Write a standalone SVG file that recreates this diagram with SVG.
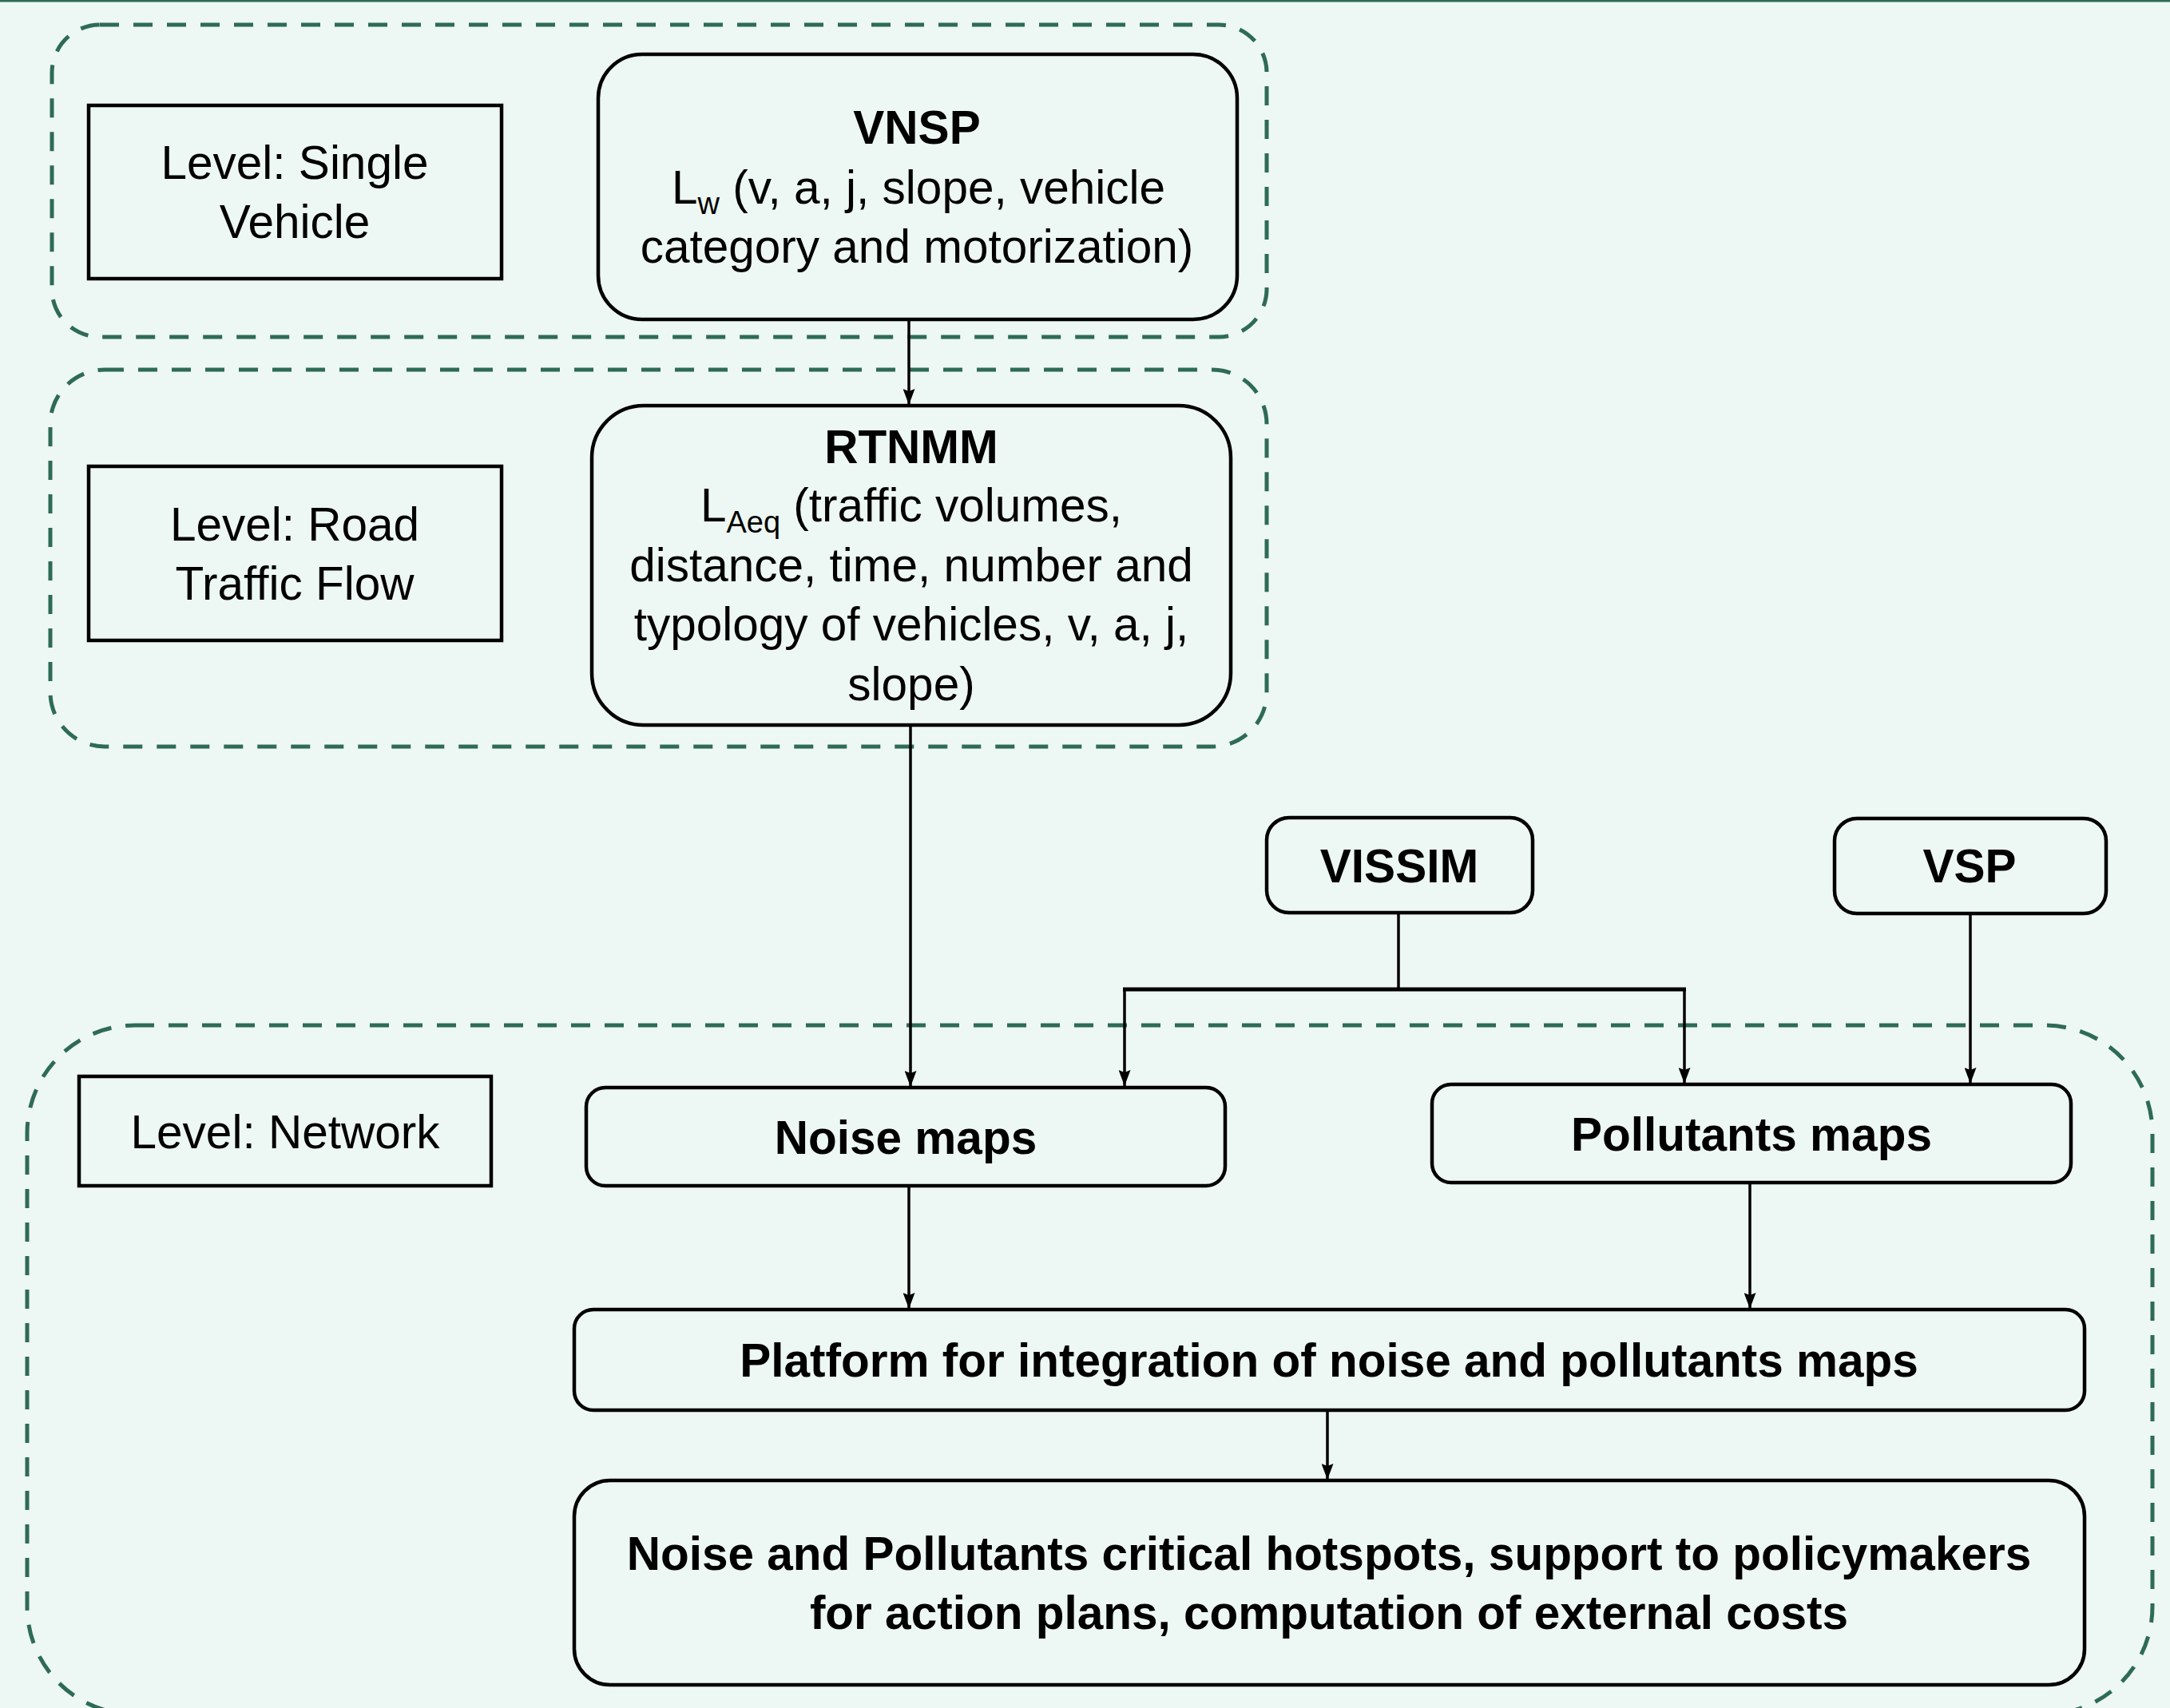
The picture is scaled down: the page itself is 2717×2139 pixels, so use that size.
<svg xmlns="http://www.w3.org/2000/svg" width="2717" height="2139" viewBox="0 0 2717 2139">
  <style>
    .bg { fill: #edf7f3; }
    .lvl { fill: none; stroke: #2e6b57; stroke-width: 5; stroke-dasharray: 24 18; }
    .box { fill: none; stroke: #000; stroke-width: 4.5; }
    .t { font-family: "Liberation Sans", Arial, sans-serif; font-size: 58.5px; fill: #000; text-anchor: middle; }
    .b { font-weight: bold; }
    .sub { font-size: 38px; }
    .wire { fill: none; stroke: #000; stroke-width: 3.5; }
    .bar { fill: none; stroke: #000; stroke-width: 5; }
  </style>
  <defs>
    <marker id="arrow" viewBox="0 0 20 15" refX="20" refY="7.5" markerWidth="20" markerHeight="15" markerUnits="userSpaceOnUse" orient="auto">
      <path d="M0,0 L20,7.5 L0,15 L3,7.5 z" fill="#000"/>
    </marker>
  </defs>

  <rect class="bg" x="0" y="0" width="2717" height="2139"/>
  <line x1="0" y1="1" x2="2717" y2="1" stroke="#2e6b57" stroke-width="3"/>

  <!-- level frames -->
  <g id="levels">
    <rect id="level-single" class="lvl" x="65" y="31" width="1521" height="391" rx="60" ry="60"/>
    <rect id="level-road" class="lvl" x="63" y="463" width="1523" height="472" rx="68" ry="68"/>
    <rect id="level-network" class="lvl" x="34" y="1284" width="2661" height="863" rx="135" ry="135"/>
  </g>

  <!-- connectors -->
  <g id="connectors">
    <path class="wire" d="M1138,400 V507" marker-end="url(#arrow)"/>
    <path class="wire" d="M1140,908 V1361" marker-end="url(#arrow)"/>
    <path class="wire" d="M1751,1144 V1239"/>
    <path class="bar" d="M1406,1239 H2111"/>
    <path class="wire" d="M1408,1239 V1360" marker-end="url(#arrow)"/>
    <path class="wire" d="M2109,1239 V1357" marker-end="url(#arrow)"/>
    <path class="wire" d="M2467,1144 V1357" marker-end="url(#arrow)"/>
    <path class="wire" d="M1138,1486 V1639" marker-end="url(#arrow)"/>
    <path class="wire" d="M2191,1482 V1639" marker-end="url(#arrow)"/>
    <path class="wire" d="M1662,1767 V1853" marker-end="url(#arrow)"/>
  </g>

  <!-- nodes -->
  <g id="label-single">
    <rect class="box" x="111" y="132" width="517" height="217"/>
    <text class="t" x="369" y="224">Level: Single</text>
    <text class="t" x="369" y="298">Vehicle</text>
  </g>

  <g id="vnsp">
    <rect class="box" x="749" y="68" width="800" height="332" rx="55" ry="55"/>
    <text class="t b" x="1148" y="180">VNSP</text>
    <text class="t" x="1150" y="255">L<tspan class="sub" dy="13">w</tspan><tspan dy="-13"> (v, a, j, slope, vehicle</tspan></text>
    <text class="t" x="1148" y="329">category and motorization)</text>
  </g>

  <g id="label-road">
    <rect class="box" x="111" y="584" width="517" height="218"/>
    <text class="t" x="369" y="677">Level: Road</text>
    <text class="t" x="369" y="751">Traffic Flow</text>
  </g>

  <g id="rtnmm">
    <rect class="box" x="741" y="508" width="800" height="400" rx="65" ry="65"/>
    <text class="t b" x="1141" y="580">RTNMM</text>
    <text class="t" x="1141" y="653">L<tspan class="sub" dy="14">Aeq</tspan><tspan dy="-14"> (traffic volumes,</tspan></text>
    <text class="t" x="1141" y="728">distance, time, number and</text>
    <text class="t" x="1141" y="802">typology of vehicles, v, a, j,</text>
    <text class="t" x="1141" y="877">slope)</text>
  </g>

  <g id="vissim">
    <rect class="box" x="1586" y="1024" width="333" height="119" rx="28" ry="28"/>
    <text class="t b" x="1752" y="1105">VISSIM</text>
  </g>

  <g id="vsp">
    <rect class="box" x="2297" y="1025" width="340" height="119" rx="28" ry="28"/>
    <text class="t b" x="2466" y="1105">VSP</text>
  </g>

  <g id="label-network">
    <rect class="box" x="99" y="1348" width="516" height="137"/>
    <text class="t" x="357" y="1438">Level: Network</text>
  </g>

  <g id="noise-maps">
    <rect class="box" x="734" y="1362" width="800" height="123" rx="24" ry="24"/>
    <text class="t b" x="1134" y="1445">Noise maps</text>
  </g>

  <g id="pollutants-maps">
    <rect class="box" x="1793" y="1358" width="800" height="123" rx="24" ry="24"/>
    <text class="t b" x="2193" y="1441">Pollutants maps</text>
  </g>

  <g id="platform">
    <rect class="box" x="719" y="1640" width="1891" height="126" rx="24" ry="24"/>
    <text class="t b" x="1664" y="1724">Platform for integration of noise and pollutants maps</text>
  </g>

  <g id="outcomes">
    <rect class="box" x="719" y="1854" width="1891" height="256" rx="45" ry="45"/>
    <text class="t b" x="1664" y="1966">Noise and Pollutants critical hotspots, support to policymakers</text>
    <text class="t b" x="1664" y="2040">for action plans, computation of external costs</text>
  </g>
</svg>
